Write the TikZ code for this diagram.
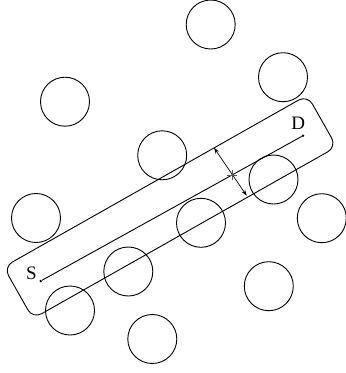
\documentclass[tikz,border=0pt]{standalone}
\usepackage{fontspec}
\setmainfont{Liberation Serif}
\usetikzlibrary{arrows.meta}
\begin{document}
\begin{tikzpicture}[x=1pt,y=-1pt,
  obst/.style={draw, circle, minimum size=49pt, inner sep=0pt, line width=0.9pt},
  lbl/.style={font=\fontsize{19}{22}\selectfont, inner sep=0pt},
  ln/.style={line width=0.9pt},
  dotst/.style={fill, circle, minimum size=2.6pt, inner sep=0pt}]
\useasboundingbox (0,0) rectangle (346,373);
% obstacles
\node[obst] (c1) at (210.7,24.5) {};
\node[obst] (c2) at (283,77.2) {};
\node[obst] (c3) at (65,101.7) {};
\node[obst] (c4) at (162.2,155.3) {};
\node[obst] (c5) at (273.5,179.5) {};
\node[obst] (c6) at (36,218) {};
\node[obst] (c7) at (201,222.8) {};
\node[obst] (c8) at (321.8,218.2) {};
\node[obst] (c9) at (128.3,271.5) {};
\node[obst] (c10) at (268.8,286.2) {};
\node[obst] (c11) at (70,310.5) {};
\node[obst] (c12) at (152.3,339) {};
% corridor box
\node[draw, rectangle, rounded corners=10pt, minimum width=349pt, minimum height=59.4pt,
      inner sep=0pt, rotate=29.5, line width=0.9pt] (box) at (170.1,206.9) {};
% source and destination
\node[dotst] (S) at (40.7,281) {};
\node[dotst] (D) at (303,135.7) {};
\draw[ln] (S) -- (D);
\node[lbl] (Sl) at (31.5,273) {S};
\node[lbl] (Dl) at (298.3,123.5) {D};
% width arrow
\coordinate (a1) at (214,147.7);
\coordinate (a2) at (246.7,195.7);
\draw[line width=0.7pt, {Stealth[length=6pt,width=4pt]}-{Stealth[length=6pt,width=4pt]}] (a1) -- (a2);
% centre mark
\coordinate (m) at (232.3,175);
\draw[line width=1pt, black!65] ([xshift=-5pt]m) -- ([xshift=5pt]m);
\draw[line width=1pt, black!65] ([yshift=-5pt]m) -- ([yshift=5pt]m);
\end{tikzpicture}
\end{document}
